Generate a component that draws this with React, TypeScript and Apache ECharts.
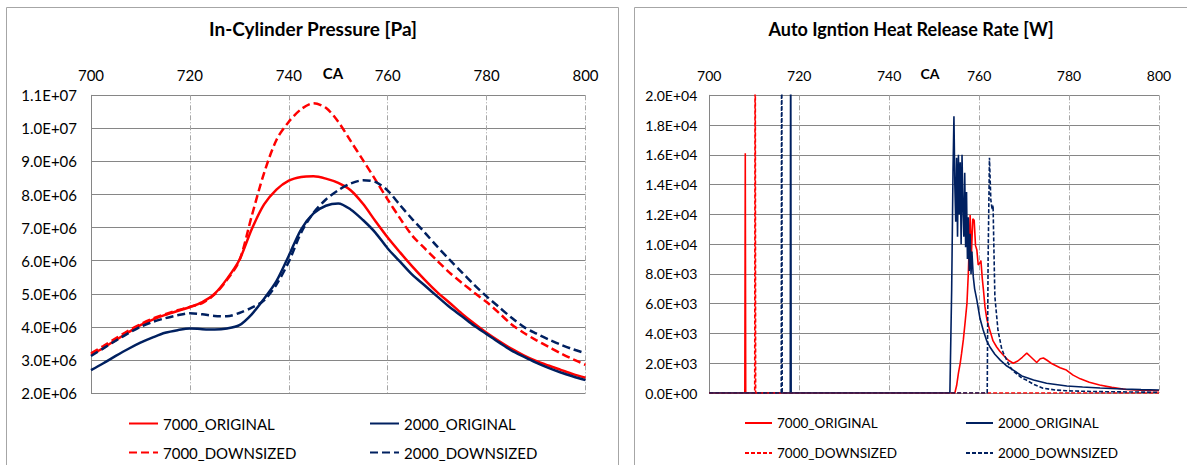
import React, { useEffect, useRef } from "react";
import * as echarts from "echarts";

// ---------- shared ----------
const RED = "#ff0000";
const NAVY = "#002060";
const FONT = "Lato, 'Open Sans', sans-serif";
const seriesNames = ["7000_ORIGINAL", "2000_ORIGINAL", "7000_DOWNSIZED", "2000_DOWNSIZED"];

// ---------- In-Cylinder Pressure [Pa] ----------
const pressureCA = [
  700, 702.5, 705, 707.5, 710, 712.5, 715, 717.5, 720, 722.5, 725, 727.5, 730, 732.5, 735, 737.5, 740,
  742.5, 745, 747.5, 750, 752.5, 755, 757.5, 760, 762.5, 765, 767.5, 770, 772.5, 775, 777.5, 780, 782.5,
  785, 787.5, 790, 792.5, 795, 797.5, 800,
];
const p7000Original = [
  3.15e6, 3.36e6, 3.6e6, 3.83e6, 4.05e6, 4.22e6, 4.36e6, 4.48e6, 4.6e6, 4.75e6, 5.0e6, 5.45e6, 6.02e6,
  6.95e6, 7.7e6, 8.15e6, 8.42e6, 8.53e6, 8.55e6, 8.48e6, 8.35e6, 8.13e6, 7.72e6, 7.2e6, 6.7e6, 6.25e6,
  5.82e6, 5.42e6, 5.05e6, 4.73e6, 4.4e6, 4.1e6, 3.82e6, 3.57e6, 3.34e6, 3.14e6, 2.97e6, 2.83e6, 2.7e6,
  2.57e6, 2.46e6,
];
const p7000Downsized = [
  3.2e6, 3.42e6, 3.65e6, 3.88e6, 4.08e6, 4.25e6, 4.38e6, 4.5e6, 4.6e6, 4.72e6, 4.98e6, 5.42e6, 6.0e6,
  7.35e6, 8.65e6, 9.65e6, 10.2e6, 10.58e6, 10.76e6, 10.62e6, 10.2e6, 9.62e6, 9.04e6, 8.45e6, 7.85e6,
  7.28e6, 6.75e6, 6.37e6, 6.0e6, 5.64e6, 5.33e6, 5.03e6, 4.75e6, 4.42e6, 4.08e6, 3.82e6, 3.6e6, 3.4e6,
  3.2e6, 3.02e6, 2.85e6,
];
const p2000Original = [
  2.69e6, 2.9e6, 3.12e6, 3.33e6, 3.52e6, 3.68e6, 3.82e6, 3.9e6, 3.95e6, 3.93e6, 3.92e6, 3.95e6, 4.05e6,
  4.38e6, 4.85e6, 5.38e6, 6.15e6, 6.95e6, 7.43e6, 7.66e6, 7.73e6, 7.55e6, 7.23e6, 6.85e6, 6.37e6, 5.97e6,
  5.57e6, 5.25e6, 4.92e6, 4.6e6, 4.32e6, 4.03e6, 3.78e6, 3.53e6, 3.29e6, 3.1e6, 2.92e6, 2.76e6, 2.62e6,
  2.5e6, 2.39e6,
];
const p2000Downsized = [
  3.12e6, 3.35e6, 3.58e6, 3.8e6, 4.0e6, 4.15e6, 4.26e6, 4.35e6, 4.41e6, 4.38e6, 4.33e6, 4.32e6, 4.42e6,
  4.58e6, 4.8e6, 5.28e6, 5.97e6, 6.85e6, 7.45e6, 7.85e6, 8.13e6, 8.33e6, 8.43e6, 8.38e6, 8.12e6, 7.68e6,
  7.25e6, 6.85e6, 6.43e6, 6.03e6, 5.65e6, 5.27e6, 4.92e6, 4.6e6, 4.28e6, 4.0e6, 3.8e6, 3.62e6, 3.46e6,
  3.32e6, 3.2e6,
];

// ---------- Auto Igntion Heat Release Rate [W] ----------
const hrr7000OriginalCA = [
  700, 707.9, 708.0, 708.1, 754.6, 755.0, 755.4, 755.8, 756.1, 756.5, 756.9, 757.3, 757.6, 758.0, 758.3,
  758.6, 758.9, 759.2, 759.5, 759.8, 760.1, 760.4, 760.7, 761.0, 761.3, 761.7, 762.1, 762.6, 763.1, 763.9,
  764.6, 765.5, 766.5, 767.6, 768.6, 769.6, 770.6, 771.4, 772.1, 772.8, 773.6, 774.3, 775.1, 776.0, 777.0,
  778.0, 779.4, 780.9, 782.5, 784.5, 786.8, 789.5, 792.7, 796.0, 800,
];
const hrr7000Original = [
  0, 0, 16100, 0, 0, 500, 1340, 2000, 2660, 3600, 4800, 6040, 8050, 11950, 9400, 11700, 11600, 9900, 9600,
  8600, 8700, 8900, 7700, 6800, 5800, 5000, 4500, 4000, 3500, 3090, 2800, 2500, 2200, 2000, 2150, 2400,
  2680, 2450, 2250, 2050, 2300, 2350, 2200, 2000, 1850, 1700, 1540, 1200, 950, 720, 540, 380, 240, 180, 150,
];
const hrr2000OriginalCA = [
  700, 718.0, 718.1, 718.2, 753.5, 753.9, 754.2, 754.4, 754.6, 754.8, 755.0, 755.2, 755.4, 755.6, 755.8,
  756.0, 756.2, 756.4, 756.6, 756.8, 757.0, 757.2, 757.4, 757.6, 757.8, 758.0, 758.2, 758.4, 758.7, 759.0,
  759.5, 760.2, 760.9, 761.7, 762.4, 763.5, 764.7, 766.0, 767.6, 769.5, 772.1, 775.0, 779.5, 783.0, 786.9,
  792.0, 796.0, 800,
];
const hrr2000Original = [
  0, 0, 30000, 0, 0, 7000, 15000, 18600, 14000, 11500, 15800, 10500, 16000, 12000, 15500, 10000, 16000,
  12500, 10500, 14800, 9800, 13500, 9000, 11800, 8200, 10700, 8000, 9500, 7800, 7000, 6240, 5000, 4230,
  3500, 3090, 2600, 2210, 1850, 1540, 1150, 870, 650, 470, 400, 340, 270, 230, 200,
];
const hrr7000DownsizedCA = [700, 710.1, 710.2, 710.3, 800];
const hrr7000Downsized = [0, 0, 30000, 0, 0];
const hrr2000DownsizedCA = [
  700, 716.0, 716.1, 716.2, 761.8, 762.0, 762.3, 762.6, 762.9, 763.1, 763.3, 763.5, 763.8, 764.2, 764.6,
  765.0, 765.5, 766.0, 766.8, 767.5, 768.5, 769.5, 770.5, 772.0, 774.2, 777.0, 779.4, 785.0, 790.0, 800,
];
const hrr2000Downsized = [
  0, 0, 30000, 0, 0, 9000, 15800, 13000, 12300, 12600, 9500, 6500, 5500, 4200, 3600, 3000, 2600, 2300, 1800,
  1500, 1250, 1000, 870, 600, 320, 200, 150, 100, 80, 50,
];

// ---------- helpers ----------
const zip = (xs: number[], ys: number[]) => xs.map((x, i) => [x, ys[i]]);

function sci(v: number): string {
  if (v === 0) return "0.0E+00";
  const [m, e] = v.toExponential(1).split("e");
  const sign = e[0] === "-" ? "-" : "+";
  const d = e.replace(/[+-]/, "");
  return m + "E" + sign + d.padStart(2, "0");
}

const textBase = { fontFamily: FONT, color: "#000" };

function xAxisCfg(fs: number) {
  return {
    type: "value",
    position: "top",
    min: 700,
    max: 800,
    interval: 20,
    axisLine: { show: false },
    axisTick: { show: false },
    axisLabel: { ...textBase, fontSize: fs, margin: 13 },
    splitLine: { show: true, lineStyle: { color: "#a6a6a6", width: 1, type: [5, 2, 1, 2] } },
  };
}

function yAxisCfg(min: number, max: number, interval: number, margin: number, fs: number) {
  return {
    type: "value",
    min,
    max,
    interval,
    axisLine: { show: true, lineStyle: { color: "#868686", width: 1 } },
    axisTick: { show: false },
    axisLabel: { ...textBase, fontSize: fs, margin, formatter: sci },
    splitLine: { show: true, lineStyle: { color: "#868686", width: 1 } },
  };
}

function legends(positions: { left: number; top: number }[], itemWidth: number, fs: number) {
  return seriesNames.map((n, i) => ({
    show: true,
    data: [n],
    left: positions[i].left,
    top: positions[i].top,
    padding: 0,
    itemWidth,
    itemHeight: 14,
    selectedMode: false,
    itemStyle: { opacity: 0, borderWidth: 0, color: "rgba(0,0,0,0)" },
    textStyle: { ...textBase, fontSize: fs },
  }));
}

function panelGraphics(rectX: number, caX: number, fs: number) {
  return [
    {
      type: "rect",
      silent: true,
      z: -10,
      shape: { x: rectX, y: 7.5, width: 612, height: 470 },
      style: { fill: "none", stroke: "#a6a6a6", lineWidth: 1 },
    },
    {
      type: "text",
      silent: true,
      x: caX,
      y: 73,
      style: {
        text: "CA",
        fontFamily: FONT,
        fontSize: fs,
        fontWeight: "bold",
        fill: "#000",
        align: "center",
        verticalAlign: "middle",
      },
    },
  ];
}

function buildLeft() {
  const mk = (name: string, ys: number[], color: string, dashed: boolean) => ({
    name,
    type: "line",
    data: zip(pressureCA, ys),
    smooth: 0.3,
    symbol: "none",
    showSymbol: false,
    lineStyle: { color, width: 2.5, type: dashed ? [8, 4] : "solid" },
    itemStyle: { color },
  });
  return {
    animation: false,
    title: {
      text: "In-Cylinder Pressure [Pa]",
      left: 313,
      top: 19,
      textAlign: "center",
      padding: 0,
      textStyle: { ...textBase, fontSize: 19, fontWeight: "bold" },
    },
    graphic: panelGraphics(6.5, 333, 15),
    grid: { left: 91, right: 40.5, top: 95.3, bottom: 72 },
    xAxis: xAxisCfg(15),
    yAxis: yAxisCfg(2e6, 1.1e7, 1e6, 14, 15),
    legend: legends(
      [
        { left: 128, top: 416 },
        { left: 369, top: 416 },
        { left: 128, top: 445 },
        { left: 369, top: 445 },
      ],
      29,
      15
    ),
    series: [
      mk("7000_ORIGINAL", p7000Original, RED, false),
      mk("2000_ORIGINAL", p2000Original, NAVY, false),
      mk("7000_DOWNSIZED", p7000Downsized, RED, true),
      mk("2000_DOWNSIZED", p2000Downsized, NAVY, true),
    ],
  };
}

function buildRight() {
  const mk = (name: string, xs: number[], ys: number[], color: string, dashed: boolean) => ({
    name,
    type: "line",
    data: zip(xs, ys),
    symbol: "none",
    showSymbol: false,
    clip: true,
    lineStyle: { color, width: 1.6, type: dashed ? [4, 2] : "solid" },
    itemStyle: { color },
  });
  return {
    animation: false,
    title: {
      text: "Auto Igntion Heat Release Rate [W]",
      left: 285,
      top: 20,
      textAlign: "center",
      padding: 0,
      textStyle: { ...textBase, fontSize: 18, fontWeight: "bold" },
    },
    graphic: panelGraphics(8.5, 304, 14),
    grid: { left: 83.3, right: 28, top: 95.3, bottom: 72 },
    xAxis: xAxisCfg(14),
    yAxis: yAxisCfg(0, 20000, 2000, 12, 14),
    legend: legends(
      [
        { left: 118, top: 416 },
        { left: 339, top: 416 },
        { left: 118, top: 446 },
        { left: 339, top: 446 },
      ],
      27,
      13.5
    ),
    series: [
      mk("7000_ORIGINAL", hrr7000OriginalCA, hrr7000Original, RED, false),
      mk("2000_ORIGINAL", hrr2000OriginalCA, hrr2000Original, NAVY, false),
      mk("7000_DOWNSIZED", hrr7000DownsizedCA, hrr7000Downsized, RED, true),
      mk("2000_DOWNSIZED", hrr2000DownsizedCA, hrr2000Downsized, NAVY, true),
    ],
  };
}

function Chart({ build, style }: { build: () => any; style: React.CSSProperties }) {
  const ref = useRef<HTMLDivElement>(null);
  useEffect(() => {
    if (!ref.current) return;
    const chart = echarts.init(ref.current, undefined, { renderer: "svg" });
    chart.setOption(build());
    return () => chart.dispose();
  }, []);
  return <div ref={ref} style={style} />;
}

export default function App() {
  return (
    <div style={{ position: "fixed", left: 0, top: 0, width: 1187, height: 465, background: "#fff", overflow: "hidden" }}>
      <Chart build={buildLeft} style={{ position: "absolute", left: 0, top: 0, width: 626, height: 465 }} />
      <Chart build={buildRight} style={{ position: "absolute", left: 626, top: 0, width: 561, height: 465 }} />
    </div>
  );
}
